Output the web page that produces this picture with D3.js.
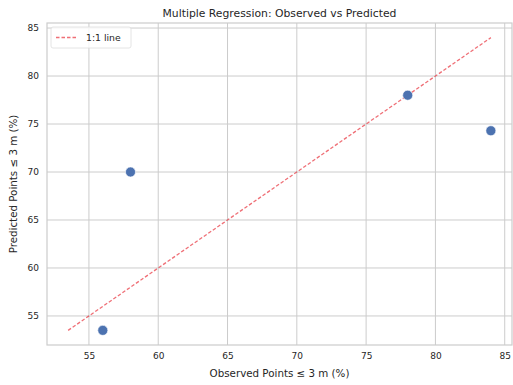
<!DOCTYPE html>
<html><head><meta charset="utf-8">
<script src="https://cdn.jsdelivr.net/npm/d3@7"></script>
<style>body{margin:0;background:#fff}svg{display:block;font-family:"DejaVu Sans",sans-serif}</style>
</head><body>
<script>
const observed = [56, 58, 78, 84];
const predicted = [53.5, 70, 78, 74.3];
const xTicks = [55, 60, 65, 70, 75, 80, 85];
const yTicks = [55, 60, 65, 70, 75, 80, 85];
const lineRange = [53.5, 84];
const title = "Multiple Regression: Observed vs Predicted";
const xLabel = "Observed Points ≤ 3 m (%)";
const yLabel = "Predicted Points ≤ 3 m (%)";
const legendLabel = "1:1 line";

const W = 513, H = 385;
const m = {l:47, r:1, t:23, b:40};
const svg = d3.select("body").append("svg").attr("width", W).attr("height", H);
const lo = 51.975, hi = 85.525;
const x = d3.scaleLinear().domain([lo, hi]).range([m.l, W - m.r]);
const y = d3.scaleLinear().domain([lo, hi]).range([H - m.b, m.t]);
const grid = "#cccccc", txt = "#262626";

// grid
svg.append("g").selectAll("line").data(xTicks).join("line")
  .attr("x1", d => x(d)).attr("x2", d => x(d)).attr("y1", m.t).attr("y2", H - m.b)
  .attr("stroke", grid).attr("stroke-width", 1);
svg.append("g").selectAll("line").data(yTicks).join("line")
  .attr("y1", d => y(d)).attr("y2", d => y(d)).attr("x1", m.l).attr("x2", W - m.r)
  .attr("stroke", grid).attr("stroke-width", 1);
// spines
svg.append("rect").attr("x", m.l).attr("y", m.t).attr("width", W - m.r - m.l).attr("height", H - m.b - m.t)
  .attr("fill", "none").attr("stroke", grid).attr("stroke-width", 1.2);

// axes (labels only)
const xa = svg.append("g").attr("transform", `translate(0,${H - m.b})`)
  .call(d3.axisBottom(x).tickValues(xTicks).tickSize(0).tickPadding(8).tickFormat(d3.format("d")));
const ya = svg.append("g").attr("transform", `translate(${m.l},0)`)
  .call(d3.axisLeft(y).tickValues(yTicks).tickSize(0).tickPadding(8).tickFormat(d3.format("d")));
[xa, ya].forEach(a => {
  a.select(".domain").remove();
  a.selectAll("text").attr("fill", txt).style("font-size", "9px").style("font-family", "DejaVu Sans");
});

// 1:1 line
svg.append("line")
  .attr("x1", x(lineRange[0])).attr("y1", y(lineRange[0]))
  .attr("x2", x(lineRange[1])).attr("y2", y(lineRange[1]))
  .attr("stroke", "#e8323c").attr("stroke-opacity", 0.7).attr("stroke-width", 1.3)
  .attr("stroke-dasharray", "3.5,2");

// points
svg.append("g").selectAll("circle").data(observed.map((o, i) => [o, predicted[i]])).join("circle")
  .attr("cx", d => x(d[0])).attr("cy", d => y(d[1])).attr("r", 5)
  .attr("fill", "#4c72b0").attr("stroke", "#ffffff").attr("stroke-width", 0.6);

// title and labels
svg.append("text").attr("x", (m.l + W - m.r) / 2).attr("y", 17).attr("text-anchor", "middle")
  .attr("fill", txt).style("font-size", "10.8px").text(title);
svg.append("text").attr("x", (m.l + W - m.r) / 2).attr("y", 377).attr("text-anchor", "middle")
  .attr("fill", txt).style("font-size", "10.3px").text(xLabel);
svg.append("text").attr("transform", `translate(17,${(m.t + H - m.b) / 2}) rotate(-90)`).attr("text-anchor", "middle")
  .attr("fill", txt).style("font-size", "10.3px").text(yLabel);

// legend
const lg = svg.append("g").attr("transform", `translate(${m.l + 4},${m.t + 4})`);
lg.append("rect").attr("width", 80).attr("height", 21).attr("rx", 2)
  .attr("fill", "#ffffff").attr("fill-opacity", 0.8).attr("stroke", "#dddddd").attr("stroke-width", 0.8);
lg.append("line").attr("x1", 5).attr("x2", 27).attr("y1", 10.5).attr("y2", 10.5)
  .attr("stroke", "#e8323c").attr("stroke-opacity", 0.7).attr("stroke-width", 1.3).attr("stroke-dasharray", "3.5,2");
lg.append("text").attr("x", 35).attr("y", 14).attr("fill", txt).style("font-size", "9.3px").text(legendLabel);
</script>
</body></html>
